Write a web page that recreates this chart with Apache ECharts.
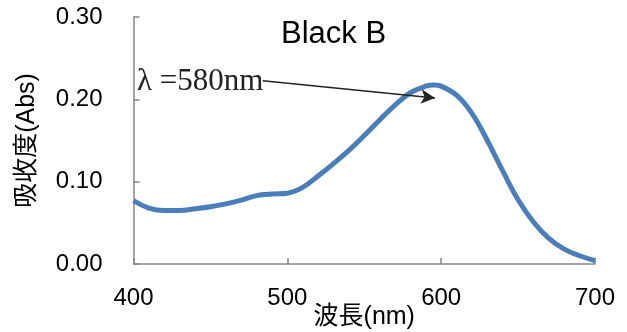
<!DOCTYPE html>
<html><head><meta charset="utf-8">
<script src="https://cdn.jsdelivr.net/npm/echarts@6/dist/echarts.min.js"></script>
<style>html,body{margin:0;padding:0;background:#fff}#c{width:627px;height:332px}</style>
</head><body><div id="c"></div>
<script>
const wavelengths = [400,410,420,430,440,450,460,470,480,490,500,510,520,530,540,550,560,570,580,590,595,600,610,620,630,640,650,660,670,680,690,700];
const absorbance = [0.077,0.068,0.065,0.065,0.067,0.0695,0.073,0.0775,0.083,0.085,0.086,0.093,0.107,0.122,0.138,0.156,0.175,0.193,0.208,0.216,0.2175,0.216,0.205,0.183,0.150,0.113,0.078,0.051,0.031,0.018,0.010,0.004];
const xTicks = [400,500,600,700];
const yTicks = [0,0.1,0.2,0.3];
const titleText = 'Black B';
const annotationText = 'λ =580nm';
const arrowFrom = [484, 0.2227];
const arrowTo = [596, 0.2017];
const labelAnchor = [402.3, 0.2215];

const chart = echarts.init(document.getElementById('c'));
const sans = '"Liberation Sans", Arial, sans-serif';
const cjk = '"Liberation Sans", "Noto Sans CJK JP", sans-serif';
chart.setOption({
  animation: false,
  backgroundColor: '#fff',
  title: {
    text: titleText, left: 276, top: 14,
    textStyle: {fontFamily: sans, fontSize: 31, fontWeight: 'normal', color: '#000'}
  },
  grid: {left: 133.5, right: 32, top: 17, bottom: 68, containLabel: false, outerBoundsMode: 'none'},
  xAxis: {
    type: 'value', min: xTicks[0], max: xTicks[xTicks.length-1], interval: 100,
    name: '波長(nm)', nameLocation: 'middle', nameGap: 41, nameMoveOverlap: false,
    nameTextStyle: {fontFamily: cjk, fontSize: 25, color: '#000'},
    axisLine: {lineStyle: {color: '#868686', width: 1.5}},
    axisTick: {inside: true, length: 6, lineStyle: {color: '#868686', width: 1.5}},
    axisLabel: {fontFamily: sans, fontSize: 24, color: '#000', margin: 22},
    splitLine: {show: false}
  },
  yAxis: {
    type: 'value', min: yTicks[0], max: yTicks[yTicks.length-1], interval: 0.1,
    name: '吸收度(Abs)', nameLocation: 'middle', nameGap: 94, nameRotate: 90, nameMoveOverlap: false,
    nameTextStyle: {fontFamily: cjk, fontSize: 25, color: '#000'},
    axisLine: {show: true, lineStyle: {color: '#868686', width: 1.5}},
    axisTick: {show: true, inside: true, length: 6, lineStyle: {color: '#868686', width: 1.5}},
    axisLabel: {fontFamily: sans, fontSize: 24, color: '#000', margin: 31,
      formatter: v => v.toFixed(2)},
    splitLine: {show: false}
  },
  series: [{
    type: 'line',
    data: wavelengths.map((w, i) => [w, absorbance[i]]),
    smooth: 0.4,
    showSymbol: false,
    lineStyle: {color: '#4a7ebb', width: 5},
    markLine: {
      silent: true,
      symbol: ['none', 'arrow'],
      symbolSize: [11, 14],
      lineStyle: {color: '#222', width: 1.5, type: 'solid'},
      label: {show: false},
      data: [[{coord: arrowFrom}, {coord: arrowTo}]]
    },
    markPoint: {
      silent: true,
      symbol: 'circle', symbolSize: 0,
      data: [{coord: labelAnchor}],
      label: {
        show: true, position: 'right', distance: 0,
        formatter: annotationText,
        fontFamily: '"Liberation Serif", "Times New Roman", serif',
        fontSize: 31, color: '#222'
      }
    }
  }]
});
</script></body></html>
